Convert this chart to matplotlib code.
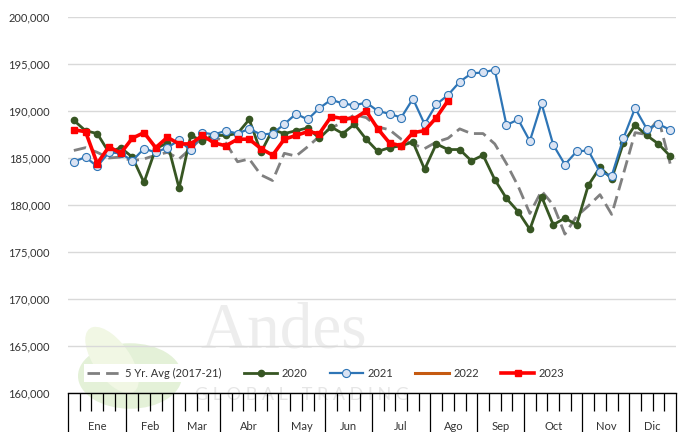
import numpy as np
import matplotlib
matplotlib.use('Agg')
import matplotlib.pyplot as plt
import matplotlib.patches as patches
from matplotlib.ticker import FixedLocator, FuncFormatter

# weekly series, week 1..52
avg_5yr = [185800, 186100, 185600, 185000, 185100, 184700, 184900, 185300, 185600, 184900,
           186000, 187200, 187300, 186600, 184600, 184900, 183200, 182600, 185500, 185200,
           186200, 187300, 188200, 188800, 189600, 189300, 188300, 188000, 187000, 186500,
           186000, 186700, 187100, 188100, 187600, 187600, 186500, 184400, 182000, 179100,
           181500, 180000, 176900, 178800, 179900, 181100, 179000, 183300, 187700, 187500,
           189200, 184400]
y2020 = [189000, 187900, 187600, 185600, 186100, 185100, 182400, 186000, 186600, 181800,
         187400, 186800, 187400, 187400, 187600, 189100, 185600, 188000, 187600, 187900,
         188200, 187100, 188300, 187600, 188600, 187000, 185700, 186100, 186300, 186700,
         183800, 186500, 185900, 185900, 184700, 185300, 182700, 180700, 179300, 177400,
         180900, 177900, 178600, 177900, 182100, 184000, 182800, 186600, 188500, 187400,
         186500, 185200]
y2021 = [184600, 185100, 184100, 185600, 185500, 184700, 186000, 185600, 186100, 186900,
         185800, 187700, 187500, 187900, 187600, 188100, 187500, 187600, 188600, 189700,
         189100, 190300, 191200, 190800, 190600, 190900, 190000, 189700, 189300, 191300,
         188600, 190700, 191700, 193100, 194000, 194100, 194400, 188500, 189100, 186800,
         190800, 186400, 184300, 185700, 185800, 183500, 183100, 187100, 190300, 188100,
         188600, 188000]
y2022 = []
y2023 = [188000, 187800, 184400, 186200, 185500, 187100, 187700, 186100, 187200, 186500,
         186500, 187400, 186600, 186300, 187000, 187000, 186000, 185300, 187000, 187400,
         187800, 187600, 189400, 189200, 189200, 190000, 188100, 186600, 186300, 187700,
         187900, 189300, 191100]

months = ['Ene', 'Feb', 'Mar', 'Abr', 'May', 'Jun', 'Jul', 'Ago', 'Sep', 'Oct', 'Nov', 'Dic']
weeks_per_month = [5, 4, 4, 5, 4, 4, 5, 4, 4, 5, 4, 4]

FONT = 'Lato'
TXT = '#333333'

fig = plt.figure(figsize=(6.86, 4.32), dpi=100)
ax = fig.add_axes([68 / 686, 1 - 393 / 432, 608 / 686, 376 / 432])
ax.patch.set_facecolor('none')

# faint company watermark behind the plot
W, H = 686, 432
logo = patches.Circle((130 / W, 1 - 376 / H), 52 / W, transform=fig.transFigure,
                      facecolor='#E4F1D8', edgecolor='none', zorder=-2)
fig.patches.append(logo)
logo_hi = patches.Ellipse((112 / W, 1 - 360 / H), 40 / W, 70 / H, angle=20,
                          transform=fig.transFigure, facecolor='#F1F7E4',
                          edgecolor='none', zorder=-2)
fig.patches.append(logo_hi)
fig.text(200 / W, 1 - 361 / H, 'Andes', family='Liberation Serif', fontsize=47,
         color='#EDEDED', ha='left', va='bottom', zorder=-1)
fig.text(195 / W, 1 - 395 / H, 'G L O B A L   T R A D I N G', family=FONT,
         fontsize=13, color='#E6E6E6', ha='left', va='center', zorder=-1)

weeks = np.arange(1, 53)

ax.plot(weeks[:len(avg_5yr)], avg_5yr, color='#808080', lw=2.0,
        dashes=(4.5, 2.2), label='5 Yr. Avg (2017-21)', zorder=3)
ax.plot(weeks[:len(y2020)], y2020, color='#375623', lw=2.0, marker='o',
        markersize=4.5, label='2020', zorder=4)
ax.plot(weeks[:len(y2021)], y2021, color='#2E75B6', lw=1.6, marker='o',
        markersize=5.8, markerfacecolor='#DAE3F3', markeredgecolor='#2E75B6',
        markeredgewidth=0.8, label='2021', zorder=5)
ax.plot(weeks[:len(y2022)], y2022, color='#C55A11', lw=2.2, label='2022', zorder=6)
ax.plot(weeks[:len(y2023)], y2023, color='#FF0000', lw=2.6, marker='s',
        markersize=5, label='2023', zorder=7)

ax.set_xlim(0.5, 52.5)
ax.set_ylim(160000, 200000)

# y axis: gridlines every 5,000, no spine
ax.set_yticks(np.arange(160000, 200001, 5000))
ax.yaxis.set_major_formatter(FuncFormatter(lambda v, p: f'{int(v):,}'))
ax.grid(axis='y', color='#D9D9D9', lw=1.0)
ax.set_axisbelow(True)
ax.tick_params(axis='y', length=0, pad=13, labelsize=8, labelcolor=TXT)
for lab in ax.get_yticklabels():
    lab.set_family(FONT)

for side in ['left', 'right', 'top']:
    ax.spines[side].set_visible(False)
ax.spines['bottom'].set_color('black')
ax.spines['bottom'].set_linewidth(1.0)

# x axis: weekly ticks, long ticks at month boundaries
bounds = np.concatenate([[0], np.cumsum(weeks_per_month)]) + 0.5
ax.xaxis.set_major_locator(FixedLocator(bounds))
ax.xaxis.set_minor_locator(FixedLocator(np.arange(0.5, 53, 1.0)))
ax.set_xticklabels([])
ax.tick_params(axis='x', which='major', direction='out', length=29, width=0.9, color='black')
ax.tick_params(axis='x', which='minor', direction='out', length=13, width=0.9, color='black')

centers = (bounds[:-1] + bounds[1:]) / 2
for c, m in zip(centers, months):
    ax.text(c, -34 / 376, m, transform=ax.get_xaxis_transform(), ha='center',
            va='center', fontsize=8, family=FONT, color=TXT, clip_on=False)

leg = ax.legend(loc='center', bbox_to_anchor=((326 - 68) / 608, 20 / 376), ncol=5,
                frameon=True, fancybox=False, handlelength=3.0, handletextpad=0.4,
                columnspacing=2.0, borderpad=0.3, prop={'family': FONT, 'size': 8})
leg.get_frame().set_facecolor('white')
leg.get_frame().set_edgecolor('none')
leg.get_frame().set_alpha(1)
for t in leg.get_texts():
    t.set_color(TXT)

fig.savefig('out.png', dpi=100)
